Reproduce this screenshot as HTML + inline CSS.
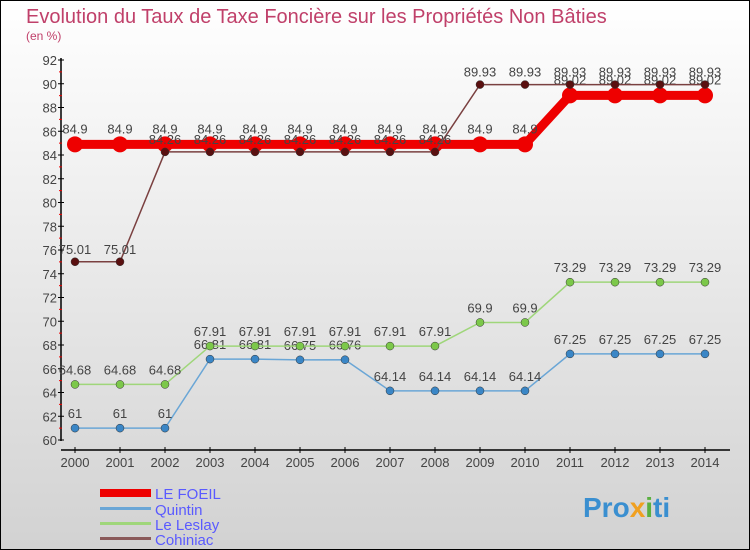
<!DOCTYPE html>
<html><head><meta charset="utf-8"><style>
body{margin:0}
svg{display:block;font-family:"Liberation Sans",sans-serif}
</style></head><body>
<svg id="c" width="750" height="550" viewBox="0 0 750 550">
<defs><linearGradient id="bg" x1="0" y1="0" x2="0" y2="1"><stop offset="0" stop-color="#ffffff"/><stop offset="1" stop-color="#d2d2d2"/></linearGradient></defs>
<rect x="0.5" y="0.5" width="749" height="549" fill="url(#bg)" stroke="#000"/>
<text x="26" y="23" font-size="20" fill="#c0406a">Evolution du Taux de Taxe Foncière sur les Propriétés Non Bâties</text>
<text x="26" y="40" font-size="12" fill="#c0406a">(en %)</text>
<g id="axes"></g>
<g id="series"></g>
<g>
<rect x="100" y="489" width="51" height="8" fill="#e00"/>
<text x="155" y="499" font-size="15" fill="#5a5aff">LE FOEIL</text>
<rect x="100" y="507" width="51" height="3" fill="#6aa6d6"/>
<text x="155" y="515" font-size="15" fill="#5a5aff">Quintin</text>
<rect x="100" y="522" width="51" height="3" fill="#9fd67a"/>
<text x="155" y="530" font-size="15" fill="#5a5aff">Le Leslay</text>
<rect x="100" y="537" width="51" height="3" fill="#8a5a5a"/>
<text x="155" y="545" font-size="15" fill="#5a5aff">Cohiniac</text>
</g>
<text x="583" y="517" font-size="28" font-weight="bold" fill="#3a8fd0">Pro<tspan fill="#f0a020">x</tspan><tspan fill="#5ab040">i</tspan>ti</text>
</svg>
<script>
const years=[2000,2001,2002,2003,2004,2005,2006,2007,2008,2009,2010,2011,2012,2013,2014];
const leFoeil=[84.9,84.9,84.9,84.9,84.9,84.9,84.9,84.9,84.9,84.9,84.9,89.02,89.02,89.02,89.02];
const quintin=[61,61,61,66.81,66.81,66.75,66.76,64.14,64.14,64.14,64.14,67.25,67.25,67.25,67.25];
const leLeslay=[64.68,64.68,64.68,67.91,67.91,67.91,67.91,67.91,67.91,69.9,69.9,73.29,73.29,73.29,73.29];
const cohiniac=[75.01,75.01,84.26,84.26,84.26,84.26,84.26,84.26,84.26,89.93,89.93,89.93,89.93,89.93,89.93];
const yTicks=[60,62,64,66,68,70,72,74,76,78,80,82,84,86,88,90,92];
const NS='http://www.w3.org/2000/svg';
const X=i=>75+i*45;
const Y=v=>440-(v-60)*(380/32);
function mk(t,a,p){const e=document.createElementNS(NS,t);for(const k in a)e.setAttribute(k,a[k]);p.appendChild(e);return e;}
const ax=document.getElementById('axes');
let l=mk('line',{x1:61,y1:58,x2:61,y2:441,stroke:'#000','stroke-width':1.5},ax);


l=mk('line',{x1:61,y1:450,x2:730,y2:450,stroke:'#000','stroke-width':1.5},ax);


yTicks.forEach(v=>{
 const t=mk('line',{x1:58,y1:Y(v),x2:64,y2:Y(v),stroke:'#000'},ax);
 
 
 if(v<92){const m=mk('line',{x1:59,y1:Y(v+1),x2:62,y2:Y(v+1),stroke:'#e00'},ax);
 
 }
 const tx=mk('text',{x:57,y:Y(v)+5,'font-size':13,fill:'#444','text-anchor':'end'},ax);
 tx.textContent=v;
 
 
});
years.forEach((yr,i)=>{
 const t=mk('line',{x1:X(i),y1:447,x2:X(i),y2:453,stroke:'#000'},ax);
 
 
 const tx=mk('text',{x:X(i),y:467,'font-size':13,fill:'#444','text-anchor':'middle'},ax);
 tx.textContent=yr;
 
 
});
const sg=document.getElementById('series');
function series(name,vals,color,w,r,dot,dy){
 const g=mk('g',{},sg);
 
 
 const p=mk('polyline',{points:vals.map((v,i)=>X(i)+','+Y(v)).join(' '),fill:'none',stroke:color,'stroke-width':w},g);
 
 
 vals.forEach((v,i)=>{
  const c=mk('circle',{cx:X(i),cy:Y(v),r:r,fill:dot,stroke:w>3?'none':'#333','stroke-width':0.5},g);
  
  
  const t=mk('text',{x:X(i),y:Y(v)+dy,'font-size':13,fill:'#444','text-anchor':'middle'},g);
  t.textContent=String(v).replace('.','.');
  
  
 });
}
series('quintin',quintin,'#6aa6d6',1.5,4,'#3a86c6',-10);
series('le-leslay',leLeslay,'#9fd67a',1.5,4,'#7cc84a',-10);
series('le-foeil',leFoeil,'#ee0000',9,8,'#ee0000',-11);
series('cohiniac',cohiniac,'#7a4040',1.5,4,'#5a1010',-8);
</script>
</body></html>
